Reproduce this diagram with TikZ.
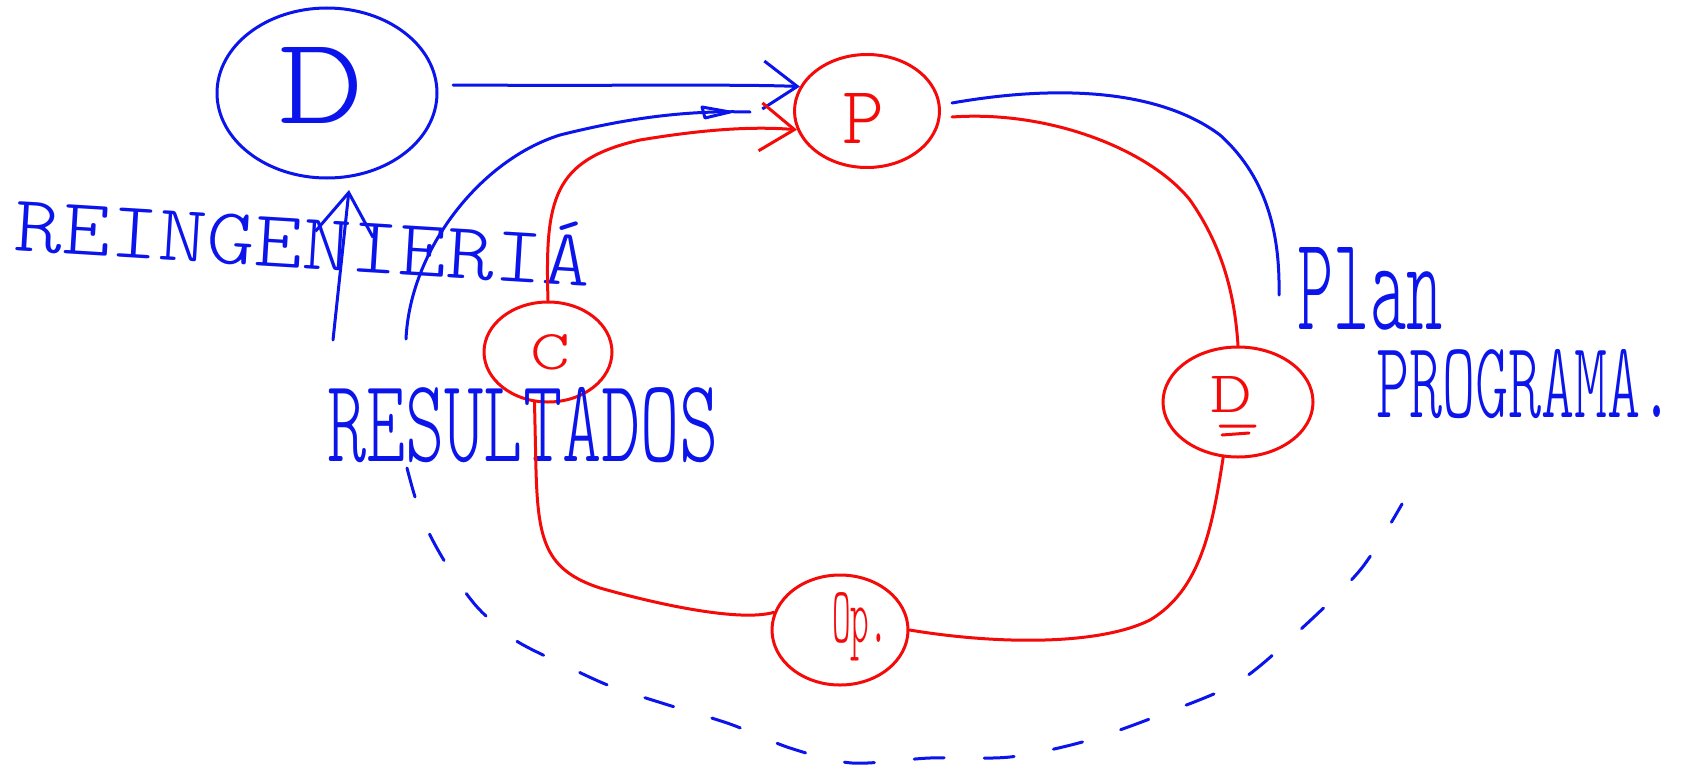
\documentclass[tikz,border=0pt]{standalone}
\usetikzlibrary{arrows.meta,shapes.geometric}
\definecolor{hb}{RGB}{10,20,235}
\definecolor{hr}{RGB}{245,10,10}
\tikzset{
  bl/.style={draw=hb,line width=3pt,line cap=round,line join=round},
  rd/.style={draw=hr,line width=3pt,line cap=round,line join=round},
  ell/.style={ellipse,inner sep=0pt,line width=3pt},
  hand/.style={inner sep=0pt,font=\fontseries{l}\ttfamily},
  tipb/.style={-{Straight Barb[length=34pt,width=48pt]}},
  tipup/.style={-{Straight Barb[length=42pt,width=58pt]}},
}
\begin{document}
\begin{tikzpicture}[x=1pt,y=-1pt]
\useasboundingbox (0,0) rectangle (1685,771);
% ellipses
\node[ell,draw=hb,minimum width=220pt,minimum height=170pt] (Db) at (327,93) {};
\node[ell,draw=hr,minimum width=145pt,minimum height=113pt] (P) at (867,111) {};
\node[ell,draw=hr,minimum width=128pt,minimum height=100pt] (C) at (548,352) {};
\node[ell,draw=hr,minimum width=150pt,minimum height=110pt] (Dr) at (1238,402) {};
\node[ell,draw=hr,minimum width=136pt,minimum height=110pt] (Op) at (840,630) {};
% labels
\node[hand,text=hb] (tD) at (321,85) {\resizebox{86pt}{76pt}{D}};
\node[hand,text=hr] (tP) at (863,118) {\resizebox{42pt}{50pt}{P}};
\node[hand,text=hr] (tC) at (550,352) {\resizebox{40pt}{35pt}{C}};
\node[hand,text=hr] (tDr) at (1231,394) {\resizebox{42pt}{36pt}{D}};
\node[hand,text=hr] (tOp) at (860,627) {\resizebox{56pt}{50pt}{Op.}};
\node[hand,text=hb] (tRes) at (523,425) {\resizebox{392pt}{74pt}{RESULTADOS}};
\node[hand,text=hb,rotate=-3.5] (tRe) at (303,244) {\resizebox{577pt}{50pt}{REINGENIERI\smash{Á}}};
\node[hand,text=hb] (tPlan) at (1370,289) {\resizebox{145pt}{82pt}{Plan}};
\node[hand,text=hb] (tProg) at (1525,384) {\resizebox{298pt}{68pt}{PROGRAMA.}};
\draw[rd] (1220,426) -- (1255,426) (1222,435) -- (1249,433);
% connectors
\coordinate (a1) at (453,85);
\draw[bl,tipb] (a1) .. controls (600,86) and (740,84) .. (P.160);
\coordinate (b0) at (406,339);
\coordinate (b1) at (750,112);
\draw[bl] (b0) .. controls (410,250) and (480,160) .. (560,135) .. controls (620,120) and (680,110) .. (b1);
\draw[bl] (702,107) -- (730,112) -- (705,118) -- cycle;
\draw[rd,tipb] (C.north) .. controls (545,200) and (552,160) .. (640,140) .. controls (700,130) and (750,126) .. (P.195);
\coordinate (c1) at (952,103);
\coordinate (c2) at (1279,295);
\draw[bl] (c1) .. controls (1060,84) and (1160,90) .. (1220,135) .. controls (1270,180) and (1280,240) .. (c2);
\coordinate (d1) at (952,117);
\draw[rd] (d1) .. controls (1050,110) and (1150,150) .. (1190,200) .. controls (1225,250) and (1235,300) .. (Dr.north);
\draw[rd] (Dr.255) .. controls (1212,530) and (1200,590) .. (1150,620) .. controls (1100,645) and (1000,645) .. (Op.east);
\draw[rd] (Op.165) .. controls (740,622) and (660,605) .. (600,588) .. controls (545,570) and (538,540) .. (536,470) -- (C.255);
\coordinate (u0) at (333,340);
\coordinate (u1) at (349,190);
\draw[bl,tipup] (u0) -- (u1);
% dashed arc
\draw[bl,dash pattern=on 30pt off 40pt] plot[smooth] coordinates {(407,468) (416,500) (430,535) (450,570) (478,608) (515,640) (560,663) (610,686) (665,704) (730,724) (790,748) (852,763) (930,758) (1010,757) (1086,741) (1160,715) (1238,682) (1300,630) (1361,569) (1402,504)};
\end{tikzpicture}
\end{document}
